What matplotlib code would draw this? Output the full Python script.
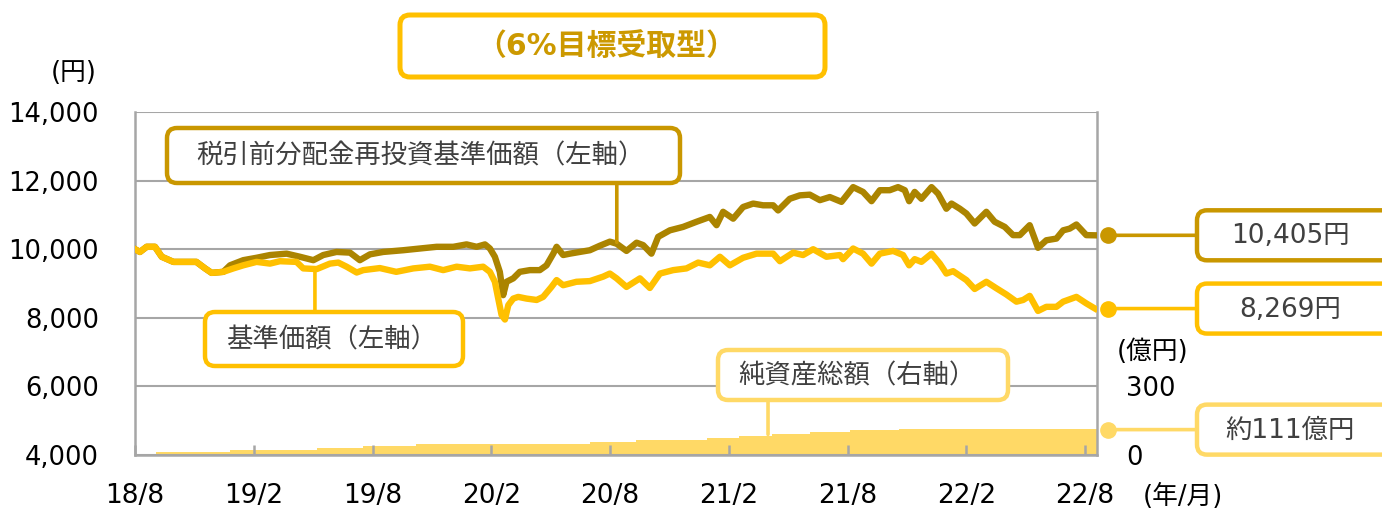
import matplotlib
matplotlib.use('Agg')
import matplotlib.pyplot as plt
from matplotlib.patches import FancyBboxPatch
from matplotlib.ticker import FuncFormatter

plt.rcParams['font.family'] = ['DejaVu Sans', 'Noto Sans CJK JP']

# months since 2018/8
tick_months = [0, 6, 12, 18, 24, 30, 36, 42, 48]
tick_labels = ['18/8', '19/2', '19/8', '20/2', '20/8', '21/2', '21/8', '22/2', '22/8']

# 基準価額 (left axis, yen)
nav_months = [0, 0.25, 0.59, 1.01, 1.35, 1.94, 3.1, 3.54, 3.87, 4.46, 4.97, 5.47,
              6.14, 6.82, 7.32, 8.16, 8.5, 9.18, 9.85, 10.27, 10.69, 11.2, 11.53,
              12.37, 13.2, 14.06, 14.9, 15.57, 16.25, 16.92, 17.59, 17.93, 18.18,
              18.35, 18.52, 18.69, 18.86, 19.11, 19.36, 19.78, 20.29, 20.62, 21.04,
              21.3, 21.63, 22.3, 22.98, 23.65, 23.99, 24.33, 24.83, 25.51, 26.01,
              26.52, 27.19, 27.86, 28.45, 29.04, 29.55, 30.05, 30.72, 31.4, 32.24,
              32.58, 33.25, 33.75, 34.26, 34.93, 35.61, 35.77, 36.28, 36.78, 37.21,
              37.63, 38.3, 38.8, 39.11, 39.39, 39.73, 40.24, 40.66, 40.99, 41.33,
              42.0, 42.42, 43.01, 43.52, 44.02, 44.53, 44.87, 45.2, 45.62, 46.04,
              46.55, 46.89, 47.56, 48.06, 48.5]
nav_values = [10000, 9920, 10070, 10070, 9780, 9630, 9630, 9440, 9310, 9340, 9440, 9530,
              9630, 9580, 9650, 9630, 9440, 9420, 9580, 9610, 9490, 9320, 9390,
              9450, 9340, 9440, 9490, 9390, 9490, 9440, 9490, 9340, 9050,
              8560, 8080, 7950, 8370, 8560, 8610, 8560, 8520, 8610, 8900,
              9100, 8950, 9050, 9070, 9200, 9290, 9150, 8900, 9150, 8870,
              9290, 9390, 9440, 9610, 9530, 9780, 9530, 9750, 9870, 9870,
              9650, 9900, 9830, 10000, 9780, 9830, 9710, 10020, 9870, 9580,
              9870, 9950, 9830, 9530, 9710, 9630, 9870, 9580, 9290, 9360,
              9100, 8840, 9050, 8860, 8680, 8470, 8520, 8640, 8200, 8320,
              8320, 8470, 8610, 8420, 8269]

# 税引前分配金再投資基準価額 (left axis, yen)
reinv_months = [0, 0.25, 0.59, 1.01, 1.35, 1.94, 3.1, 3.54, 3.87, 4.46, 4.8, 5.47,
                6.14, 6.82, 7.66, 8.33, 9.01, 9.51, 10.18, 10.86, 11.36, 11.87,
                12.54, 13.55, 14.39, 15.24, 16.08, 16.75, 17.26, 17.68, 17.93, 18.18,
                18.43, 18.6, 18.77, 19.11, 19.44, 19.95, 20.45, 20.79, 21.13, 21.3,
                21.63, 21.97, 22.47, 22.98, 23.48, 23.99, 24.33, 24.83, 25.34, 25.67,
                26.09, 26.43, 27.02, 27.69, 28.37, 29.04, 29.38, 29.71, 30.22, 30.72,
                31.23, 31.73, 32.24, 32.49, 33.08, 33.59, 34.09, 34.6, 35.1, 35.69,
                36.28, 36.78, 37.21, 37.63, 38.13, 38.55, 38.89, 39.11, 39.39, 39.73,
                40.24, 40.57, 40.99, 41.25, 41.67, 42.0, 42.42, 43.01, 43.43, 43.94,
                44.36, 44.7, 45.2, 45.45, 45.62, 46.04, 46.55, 46.89, 47.22, 47.56,
                48.06, 48.5]
reinv_values = [10000, 9920, 10070, 10070, 9780, 9630, 9630, 9440, 9310, 9340, 9530, 9680,
                9750, 9830, 9870, 9780, 9680, 9830, 9920, 9900, 9680, 9850,
                9920, 9970, 10020, 10070, 10070, 10140, 10070, 10140, 10020, 9780,
                9340, 8660, 9050, 9150, 9340, 9390, 9390, 9530, 9870, 10070,
                9830, 9870, 9920, 9970, 10100, 10220, 10160, 9950, 10190, 10120,
                9870, 10360, 10550, 10650, 10800, 10940, 10700, 11090, 10890, 11230,
                11330, 11280, 11280, 11130, 11470, 11570, 11590, 11430, 11520, 11380,
                11810, 11670, 11400, 11720, 11720, 11810, 11720, 11400, 11670, 11470,
                11810, 11620, 11180, 11330, 11180, 11040, 10750, 11090, 10800, 10650,
                10410, 10410, 10700, 10310, 10040, 10260, 10310, 10550, 10600, 10720,
                10410, 10405]

# 純資産総額 (right axis, 億円)
aum_months = [0, 1.06, 4.8, 9.2, 11.5, 14.2, 18.4, 23.0, 25.3, 28.9, 30.5, 32.2,
              34.1, 36.1, 38.6, 45.2, 47.0, 48.6]
aum_values = [0, 12, 22, 29, 39, 48, 47, 55, 64, 73, 83, 90,
              99, 108, 115, 112, 114, 111]

C_DARK = '#AB8400'
C_DARK_BOX = '#C99700'
C_YEL = '#FFC000'
C_LIGHT = '#FFD966'
C_GRID = '#A6A6A6'
C_TXT = '#404040'

W, H = 1382, 509
fig = plt.figure(figsize=(W / 100, H / 100), dpi=100)
ax = fig.add_axes([135 / W, 1 - 455 / H, (1097 - 135) / W, (455 - 112) / H])
ax2 = ax.twinx()
# keep the price lines and ticks above the area
ax.set_zorder(ax2.get_zorder() + 1)
ax.patch.set_visible(False)

ax.set_xlim(0, 48.6)
ax.set_ylim(4000, 14000)
ax2.set_ylim(0, 1500)

ax.plot(reinv_months, reinv_values, color=C_DARK, lw=4.6, solid_joinstyle='round', zorder=3)
ax.plot(nav_months, nav_values, color=C_YEL, lw=4.6, solid_joinstyle='round', zorder=4)
ax2.fill_between(aum_months, aum_values, step='post', color=C_LIGHT, lw=0)

ax.set_yticks(range(4000, 14001, 2000))
ax.yaxis.set_major_formatter(FuncFormatter(lambda v, p: f'{int(v):,}'))
ax.grid(axis='y', color=C_GRID, lw=1.5)
ax.set_axisbelow(True)
ax.set_xticks(tick_months)
ax.set_xticklabels(tick_labels)
ax.tick_params(axis='x', direction='in', length=7, width=1.8, color=C_GRID, pad=20,
               labelsize=19)
ax.tick_params(axis='y', length=0, pad=26, labelsize=18.5)
ax2.set_yticks([0, 300])
ax2.tick_params(axis='y', length=0, pad=21, labelsize=18.5)

for s in ['top', 'right']:
    ax.spines[s].set_visible(False)
for s in ['top', 'left', 'bottom']:
    ax2.spines[s].set_visible(False)
for sp in [ax.spines['left'], ax.spines['bottom'], ax2.spines['right']]:
    sp.set_color(C_GRID)
    sp.set_linewidth(1.8)


def rbox(x0, y0, x1, y1, color, lw=3.2):
    p = FancyBboxPatch((x0 / 100, (H - y1) / 100), (x1 - x0) / 100, (y1 - y0) / 100,
                       boxstyle='round,pad=0,rounding_size=0.1',
                       transform=fig.dpi_scale_trans, facecolor='white',
                       edgecolor=color, linewidth=lw, zorder=10)
    fig.add_artist(p)


def label(x, y, s, color=C_TXT, size=19, weight='normal'):
    fig.text(x / W, 1 - y / H, s, ha='center', va='center', color=color,
             fontsize=size, fontweight=weight, zorder=11)


# title
rbox(400, 15, 825, 77, C_YEL, lw=3.6)
label(606, 47, '（6%目標受取型）', color='#CC9900', size=21.5, weight='bold')

# units
label(74, 73, '(円)', color='black', size=18.5)
label(1153, 352, '(億円)', color='black', size=18.5)
label(1183, 497, '(年/月)', color='black', size=18.5)

# series labels with leader lines
ax.annotate('', xy=(24.34, 10200), xytext=(0, 58), textcoords='offset pixels',
            arrowprops=dict(arrowstyle='-', color=C_DARK_BOX, lw=2.6, shrinkA=0, shrinkB=0),
            annotation_clip=False, zorder=5)
rbox(167, 128, 680, 183, C_DARK_BOX)
label(420, 156, '税引前分配金再投資基準価額（左軸）')

ax.annotate('', xy=(9.09, 9420), xytext=(0, -45), textcoords='offset pixels',
            arrowprops=dict(arrowstyle='-', color=C_YEL, lw=2.6, shrinkA=0, shrinkB=0),
            annotation_clip=False, zorder=5)
rbox(205, 312, 463, 366, C_YEL)
label(332, 340, '基準価額（左軸）')

ax2.annotate('', xy=(31.98, 90), xytext=(0, 34), textcoords='offset pixels',
             arrowprops=dict(arrowstyle='-', color=C_LIGHT, lw=2.6, shrinkA=0, shrinkB=0),
             annotation_clip=False, zorder=5)
rbox(718, 350, 1008, 400, C_LIGHT)
label(857, 376, '純資産総額（右軸）')

# end values on the right
end_x = 49.15
ends = [(ax, reinv_values[-1], C_DARK_BOX, '10,405円'),
        (ax, nav_values[-1], C_YEL, '8,269円'),
        (ax2, aum_values[-1], C_LIGHT, '約111億円')]
for a, v, c, txt in ends:
    a.plot([end_x], [v], 'o', ms=11, color=c, clip_on=False, zorder=6)
    a.annotate('', xy=(end_x, v), xytext=(89, 0), textcoords='offset pixels',
               arrowprops=dict(arrowstyle='-', color=c, lw=2.6, shrinkA=0, shrinkB=0),
               annotation_clip=False)
    yd = H - a.transData.transform((end_x, v))[1]
    rbox(1197, yd - 25, 1400, yd + 25, c)
    label(1290, yd + 1, txt)

fig.savefig('out.png', dpi=100)
